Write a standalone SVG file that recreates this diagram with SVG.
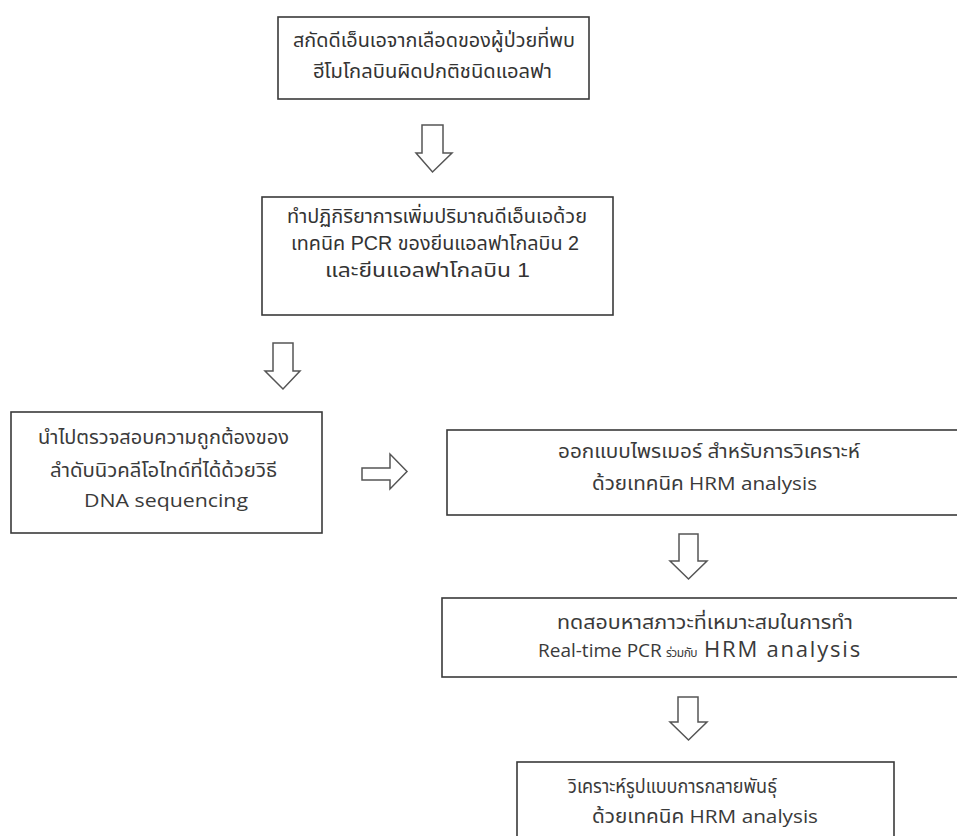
<svg xmlns="http://www.w3.org/2000/svg" width="957" height="836" viewBox="0 0 957 836">
<style>
.box{fill:#fff;stroke:#3a3a3a;stroke-width:1.6}
.arr{fill:#fff;stroke:#555;stroke-width:1.5;stroke-linejoin:miter}
.ta{font-family:"Liberation Sans","Noto Sans Thai","Tahoma",sans-serif;font-size:20px;fill:#333;text-anchor:start}
.tb{font-family:"Open Sans","Noto Sans Thai","Liberation Sans",sans-serif;font-size:19px;fill:#3a3a3a;text-anchor:start}
</style>
<rect width="957" height="836" fill="#fff"/>
<g id="connectors">
<polygon class="arr" points="422,125 443,125 443,153 452,153 432.5,172 416,153 422,153"/>
<polygon class="arr" points="273,343 293,343 293,371 300,371 283,389 265,371 273,371"/>
<polygon class="arr" points="362,468 390,468 390,454 407,471.5 390,489 390,480 362,480"/>
<polygon class="arr" points="679,534 698,534 698,561 707,561 688.5,579 670,561 679,561"/>
<polygon class="arr" points="678,697 698,697 698,722 707,722 688.5,740 670,722 678,722"/>
</g>
<g id="n1">
<rect class="box" x="278" y="17" width="311" height="82"/>
<text class="ta" x="293" y="47" textLength="282" lengthAdjust="spacingAndGlyphs">สกัดดีเอ็นเอจากเลือดของผู้ป่วยที่พบ</text>
<text class="ta" x="313" y="78" textLength="239" lengthAdjust="spacingAndGlyphs">ฮีโมโกลบินผิดปกติชนิดแอลฟา</text>
</g>
<g id="n2">
<rect class="box" x="262" y="197" width="351" height="118"/>
<text class="ta" x="287" y="223" textLength="300" lengthAdjust="spacingAndGlyphs">ทำปฏิกิริยาการเพิ่มปริมาณดีเอ็นเอด้วย</text>
<text class="ta" x="291" y="250" textLength="288" lengthAdjust="spacingAndGlyphs">เทคนิค PCR ของยีนแอลฟาโกลบิน 2</text>
<text class="ta" x="325" y="277" textLength="205" lengthAdjust="spacingAndGlyphs">และยีนแอลฟาโกลบิน 1</text>
</g>
<g id="n3">
<rect class="box" x="11" y="412" width="311" height="121"/>
<text class="tb" x="38" y="444" textLength="251" lengthAdjust="spacingAndGlyphs">นำไปตรวจสอบความถูกต้องของ</text>
<text class="tb" x="50" y="477" textLength="227" lengthAdjust="spacingAndGlyphs">ลำดับนิวคลีโอไทด์ที่ได้ด้วยวิธี</text>
<text class="tb" x="84" y="507" textLength="164" lengthAdjust="spacingAndGlyphs">DNA sequencing</text>
</g>
<g id="n4">
<rect class="box" x="447" y="430" width="520" height="85"/>
<text class="tb" x="558" y="458" textLength="302" lengthAdjust="spacingAndGlyphs">ออกแบบไพรเมอร์ สำหรับการวิเคราะห์</text>
<text class="tb" x="592" y="490" textLength="225" lengthAdjust="spacingAndGlyphs">ด้วยเทคนิค HRM analysis</text>
</g>
<g id="n5">
<rect class="box" x="442" y="598" width="525" height="79"/>
<text class="tb" x="557" y="629" textLength="296" lengthAdjust="spacingAndGlyphs">ทดสอบหาสภาวะที่เหมาะสมในการทำ</text>
<text class="tb" y="657"><tspan x="538">Real-time PCR</tspan><tspan x="666" font-size="12" letter-spacing="-0.5">ร่วมกับ</tspan><tspan x="704" font-size="22" letter-spacing="1.8">HRM analysis</tspan></text>
</g>
<g id="n6">
<rect class="box" x="517" y="762" width="377" height="90"/>
<text class="tb" x="568" y="793" textLength="209" lengthAdjust="spacingAndGlyphs">วิเคราะห์รูปแบบการกลายพันธุ์</text>
<text class="tb" x="592" y="823" textLength="226" lengthAdjust="spacingAndGlyphs">ด้วยเทคนิค HRM analysis</text>
</g>
</svg>
